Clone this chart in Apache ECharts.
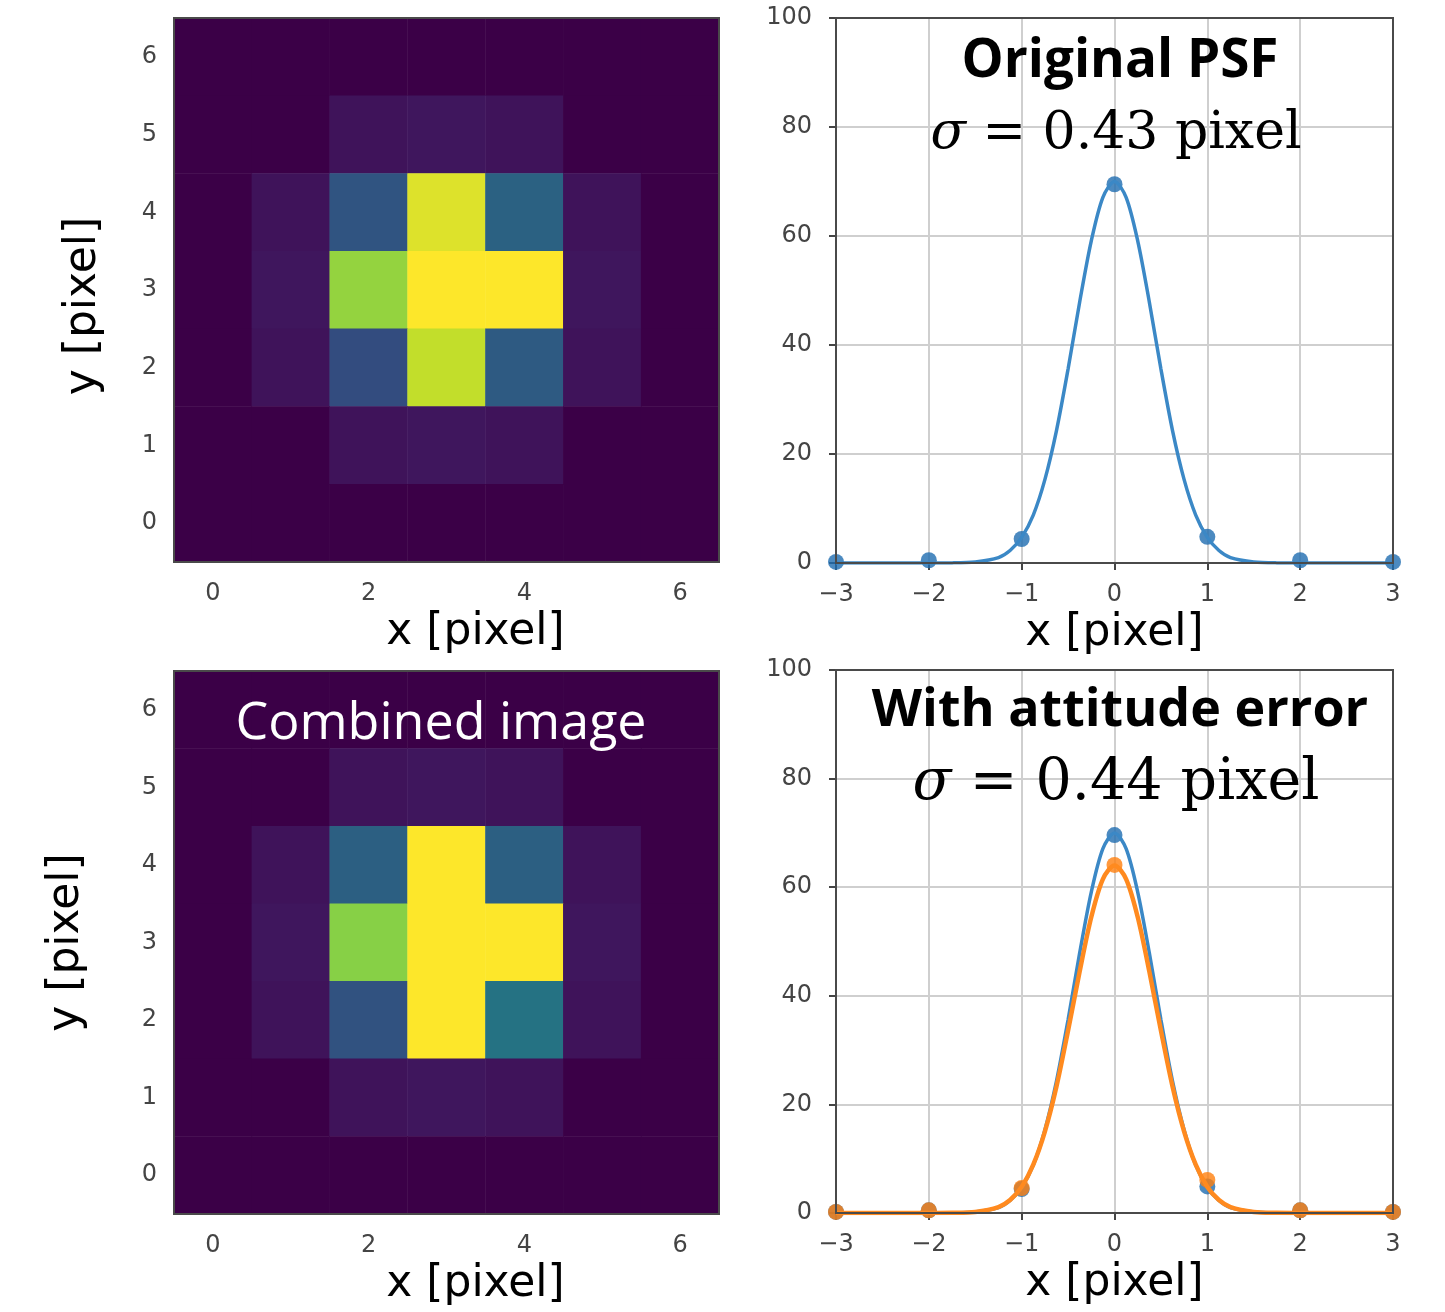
<!DOCTYPE html>
<html>
<head>
<meta charset="utf-8">
<title>PSF</title>
<script src="https://cdn.jsdelivr.net/npm/echarts@6/dist/echarts.min.js"></script>
<style>
  body{margin:0;background:#fff;}
  #myChart{width:1445px;height:1312px;}
</style>
</head>
<body>
<div id="myChart"></div>
<script>
// pixel index of the 7x7 images
var pixLabels = ['0','1','2','3','4','5','6'];
// image rows, top row (y=6) first, normalised intensity
var psfImage = [
  [0, 0,    0,    0,    0,    0,    0],
  [0, 0,    0.06, 0.07, 0.06, 0,    0],
  [0, 0.06, 0.29, 0.95, 0.34, 0.06, 0],
  [0, 0.07, 0.84, 1.00, 1.00, 0.07, 0],
  [0, 0.06, 0.26, 0.91, 0.31, 0.06, 0],
  [0, 0,    0.06, 0.07, 0.06, 0,    0],
  [0, 0,    0,    0,    0,    0,    0]
];
var combinedImage = [
  [0, 0,    0,    0,    0,    0,    0],
  [0, 0,    0.06, 0.07, 0.06, 0,    0],
  [0, 0.06, 0.33, 1.00, 0.33, 0.06, 0],
  [0, 0.07, 0.82, 1.00, 1.00, 0.07, 0],
  [0, 0.06, 0.28, 1.00, 0.41, 0.06, 0],
  [0, 0,    0.06, 0.07, 0.06, 0,    0],
  [0, 0,    0,    0,    0,    0,    0]
];
var viridis = ['#3b0047','#412066','#3a3c7a','#2f5782','#267083','#1f8985','#22a27f','#43bb6b','#7acd4d','#bcdd2b','#fde72a'];

// profile through the centre (x in pixel, intensity)
var xFit = [-3,-2.75,-2.5,-2.25,-2,-1.75,-1.5,-1.25,-1.125,-1,-0.875,-0.75,-0.625,-0.5,-0.375,-0.25,-0.125,0,
            0.125,0.25,0.375,0.5,0.625,0.75,0.875,1,1.125,1.25,1.5,1.75,2,2.25,2.5,2.75,3];
var blueFit = [0,0,0,0,0,0.02,0.2,1.0,2.3,4.7,8.8,15.3,24.3,35.6,47.9,59.1,67.1,70,
               67.1,59.1,47.9,35.6,24.3,15.3,8.8,4.7,2.3,1.0,0.2,0.02,0,0,0,0,0];
var orangeFit = [0,0,0,0,0,0.03,0.2,1.1,2.4,4.8,8.9,15.0,23.3,33.6,44.5,54.5,61.5,64,
                 61.5,54.5,44.5,33.6,23.3,15.0,8.9,4.8,2.4,1.1,0.2,0.03,0,0,0,0,0];
var xPts = [-3,-2,-1,0,1,2,3];
var bluePts = [0.2,0.5,4.4,69.5,4.8,0.5,0.2];
var bluePts2 = [0.2,0.5,4.4,69.6,4.9,0.5,0.2];
var orangePts = [0.2,0.5,4.6,64.1,6.1,0.5,0.2];

function toCells(img){
  var out = [];
  img.forEach(function(row, r){
    row.forEach(function(v, c){ out.push([c, 6 - r, v]); });
  });
  return out;
}
function pairs(xs, ys){
  return xs.map(function(x, i){ return [x, ys[i]]; });
}

var grids = [
  {left:174, top:18, width:545, height:544},
  {left:836, top:18, width:557, height:545},
  {left:174, top:671, width:545, height:543},
  {left:836, top:670, width:557, height:543}
];

var tickFont = {fontSize:24, color:'#444', fontFamily:'DejaVu Sans'};
var nameFont = {fontSize:44, color:'#000', fontFamily:'DejaVu Sans'};

function heatX(g){
  return {type:'category', gridIndex:g, data:pixLabels,
    axisLine:{lineStyle:{color:'#4a4a4a',width:2}},
    axisTick:{alignWithLabel:true, interval:1, length:7, lineStyle:{color:'#444',width:2}},
    axisLabel:Object.assign({interval:1, margin:20}, tickFont),
    splitLine:{show:false},
    name:'x [pixel]', nameLocation:'middle', nameGap:49,
    nameTextStyle:Object.assign({padding:[0,0,0,58]}, nameFont)};
}
function heatY(g, gap, pad){
  return {type:'category', gridIndex:g, data:pixLabels,
    axisLine:{lineStyle:{color:'#4a4a4a',width:2}},
    axisTick:{alignWithLabel:true, interval:0, length:7, lineStyle:{color:'#444',width:2}},
    axisLabel:Object.assign({interval:0, margin:17}, tickFont),
    splitLine:{show:false},
    name:'y [pixel]', nameLocation:'middle', nameGap:gap,
    nameTextStyle:Object.assign({padding:pad}, nameFont)};
}
function lineX(g){
  return {type:'value', gridIndex:g, min:-3, max:3, interval:1,
    axisLine:{onZero:false, lineStyle:{color:'#4a4a4a',width:2}},
    axisTick:{length:7, lineStyle:{color:'#444',width:2}},
    axisLabel:Object.assign({margin:20, formatter:function(v){ return v < 0 ? '\u2212' + (-v) : '' + v; }}, tickFont),
    splitLine:{show:true, lineStyle:{color:'#cfcfcf', width:2}},
    name:'x [pixel]', nameLocation:'middle', nameGap:49, nameTextStyle:nameFont};
}
function lineY(g){
  return {type:'value', gridIndex:g, min:0, max:100, interval:20,
    axisLine:{onZero:false, lineStyle:{color:'#4a4a4a',width:2}},
    axisTick:{length:7, lineStyle:{color:'#444',width:2}},
    axisLabel:Object.assign({margin:24}, tickFont),
    splitLine:{show:true, lineStyle:{color:'#cfcfcf', width:2}}};
}
function fitLine(g, ys, color, w){
  return {type:'line', xAxisIndex:g, yAxisIndex:g, data:pairs(xFit, ys), smooth:0.3,
    showSymbol:false, lineStyle:{color:color, width:w}, itemStyle:{color:color}, silent:true};
}
function dots(g, ys, color){
  return {type:'scatter', xAxisIndex:g, yAxisIndex:g, data:pairs(xPts, ys), symbolSize:16,
    itemStyle:{color:color}, silent:true};
}
function heat(g, img){
  return {type:'heatmap', xAxisIndex:g, yAxisIndex:g, data:toCells(img), silent:true, emphasis:{disabled:true}};
}
// dark frame round each plot, drawn over the data
function frameRect(g){
  return {type:'rect', z:90, silent:true,
    shape:{x:g.left, y:g.top, width:g.width, height:g.height},
    style:{fill:null, stroke:'#4a4a4a', lineWidth:2}};
}

function mathText(x, y, txt, size){
  return {type:'text', x:x, y:y, z:100, style:{
    text:'{i|σ}{n|' + txt + '}', textAlign:'center', textVerticalAlign:'middle',
    rich:{
      i:{fontFamily:'DejaVu Serif', fontStyle:'italic', fontSize:size, fill:'#000'},
      n:{fontFamily:'DejaVu Serif', fontSize:size, fill:'#000'}
    }}};
}

var chart = echarts.init(document.getElementById('myChart'));
chart.setOption({
  animation:false,
  grid:grids,
  xAxis:[heatX(0), lineX(1), heatX(2), lineX(3)],
  yAxis:[heatY(0, 68, [0,32,0,0]), lineY(1), heatY(2, 85, [0,0,0,0]), lineY(3)],
  visualMap:[
    {show:false, seriesIndex:0, min:0, max:1, inRange:{color:viridis}},
    {show:false, seriesIndex:3, min:0, max:1, inRange:{color:viridis}}
  ],
  series:[
    heat(0, psfImage),
    fitLine(1, blueFit, '#3b88c6', 3.5),
    dots(1, bluePts, '#1f6db0'),
    heat(2, combinedImage),
    fitLine(3, blueFit, '#3b88c6', 3.5),
    dots(3, bluePts2, '#1f6db0'),
    fitLine(3, orangeFit, '#ff8a1f', 4.5),
    dots(3, orangePts, '#ff7f0e')
  ],
  graphic:[
    frameRect(grids[0]), frameRect(grids[1]), frameRect(grids[2]), frameRect(grids[3]),
    {type:'text', x:1120, y:62, z:100, style:{text:'Original PSF', textAlign:'center', textVerticalAlign:'middle',
      font:'bold 53px "Open Sans"', fill:'#000'}},
    mathText(1116, 134, ' = 0.43 pixel', 52),
    {type:'text', x:1120, y:711, z:100, style:{text:'With attitude error', textAlign:'center', textVerticalAlign:'middle',
      font:'bold 52px "Open Sans"', fill:'#000'}},
    mathText(1116, 784, ' = 0.44 pixel', 57),
    {type:'text', x:441, y:724, z:100, style:{text:'Combined image', textAlign:'center', textVerticalAlign:'middle',
      font:'52px "Open Sans"', fill:'#fff'}}
  ]
});
</script>
</body>
</html>
